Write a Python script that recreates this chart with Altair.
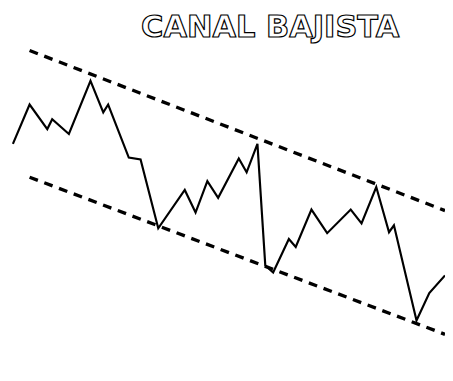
import altair as alt
import pandas as pd

# price path (reference pixel coordinates, y grows downward)
price_x = [13, 30, 48, 53, 70, 92, 105, 110, 131, 143, 161, 188, 199, 211, 222,
           243, 251, 262, 270, 278, 294, 301, 317, 333, 357, 368, 383, 396, 401,
           424, 437, 453]
price_y = [143, 103, 128, 118, 133, 79, 111, 103, 157, 159, 229, 190, 213, 181, 198,
           158, 172, 143, 267, 274, 240, 248, 210, 234, 210, 224, 187, 233, 226,
           323, 295, 277]

# channel lines (start/end)
upper_x = [30, 453]
upper_y = [48, 211]
lower_x = [30, 453]
lower_y = [177, 337]

title_text = ["CANAL BAJISTA"]
title_x = [275]
title_y = [25]

price = pd.DataFrame({"x": price_x, "y": price_y, "i": range(len(price_x))})
chan = pd.DataFrame({
    "x": upper_x + lower_x,
    "y": upper_y + lower_y,
    "line": ["upper"] * 2 + ["lower"] * 2,
})
title = pd.DataFrame({"t": title_text, "x": title_x, "y": title_y})

W, H = 445, 360
xs = alt.Scale(domain=[8, 8 + W], nice=False, zero=False)
ys = alt.Scale(domain=[8 + H, 8], nice=False, zero=False)
X = lambda: alt.X("x:Q", scale=xs, axis=None)
Y = lambda: alt.Y("y:Q", scale=ys, axis=None)

channel = alt.Chart(chan).mark_line(
    color="black", strokeWidth=3.4, strokeDash=[9, 7], clip=False
).encode(x=X(), y=Y(), detail="line:N")

line = alt.Chart(price).mark_line(
    color="black", strokeWidth=2.2, strokeJoin="miter", clip=False
).encode(x=X(), y=Y(), order="i:Q")

txt = alt.Chart(title).mark_text(
    font="DejaVu Sans", fontWeight="bold", fontSize=31,
    fill="white", stroke="black", strokeWidth=1.2,
    align="center", baseline="middle",
).encode(x=X(), y=Y(), text="t:N")

chart = alt.layer(channel, line, txt).properties(
    width=W, height=H, padding=0, autosize=alt.AutoSizeParams(type="none"),
    background="white"
).configure_view(stroke=None)

chart.save("out.html", embed_options={"renderer": "svg", "actions": False})
